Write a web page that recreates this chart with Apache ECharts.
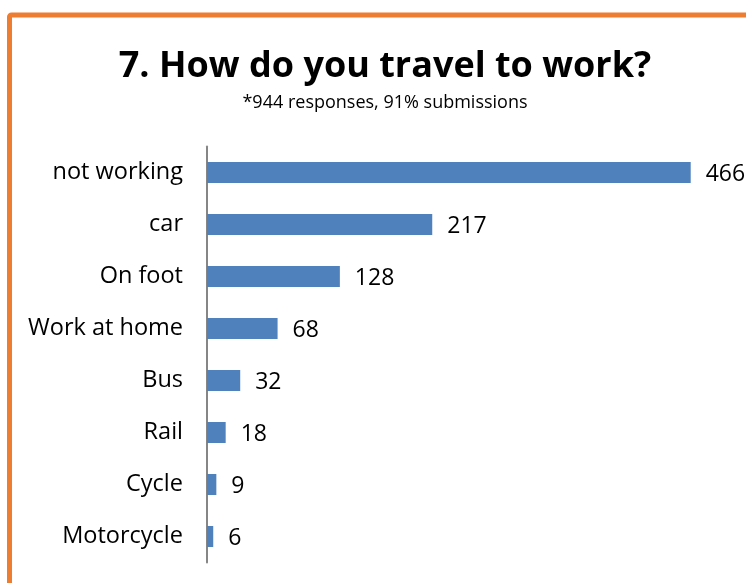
<!DOCTYPE html>
<html>
<head>
<meta charset="utf-8">
<style>
  html, body { margin: 0; padding: 0; background: #ffffff; }
  #chart { width: 746px; height: 583px; }
</style>
<script src="https://cdn.jsdelivr.net/npm/echarts@6/dist/echarts.min.js"></script>
</head>
<body>
<div id="chart"></div>
<script>
// Travel-to-work survey answers (top to bottom as listed)
const categories = ['not working', 'car', 'On foot', 'Work at home', 'Bus', 'Rail', 'Cycle', 'Motorcycle'];
const responses = [466, 217, 128, 68, 32, 18, 9, 6];

const titleText = '7. How do you travel to work?';
const subtitleText = '*944 responses, 91% submissions';

const chart = echarts.init(document.getElementById('chart'), null, { renderer: 'canvas' });
const fontFamily = '"Open Sans", sans-serif';

chart.setOption({
  animation: false,
  backgroundColor: '#ffffff',
  title: {
    text: titleText,
    subtext: subtitleText,
    left: 380,
    textAlign: 'center',
    top: 44,
    itemGap: 9,
    textStyle: { fontFamily, fontWeight: 'bold', fontSize: 36, color: '#000000' },
    subtextStyle: { fontFamily, fontSize: 18, color: '#000000' }
  },
  graphic: [{
    type: 'rect',
    shape: { x: 9.5, y: 15, width: 900, height: 700, r: 2 },
    style: { fill: 'none', stroke: '#ED7D31', lineWidth: 5 },
    silent: true
  }],
  grid: { left: 207, top: 146.5, width: 519, height: 416 },
  xAxis: {
    type: 'value',
    min: 0,
    max: 500,
    show: false
  },
  yAxis: {
    type: 'category',
    data: categories,
    inverse: true,
    axisLine: { show: true, lineStyle: { color: '#868686', width: 2 } },
    axisTick: { show: false },
    axisLabel: { fontFamily, fontSize: 23.5, color: '#000000', margin: 24, padding: [3, 0, 0, 0] },
  },
  series: [{
    type: 'bar',
    data: responses,
    barWidth: 21,
    itemStyle: { color: '#4F81BD' },
    label: {
      show: true,
      position: 'right',
      distance: 15,
      offset: [0, 2],
      fontFamily,
      fontSize: 23,
      color: '#000000'
    }
  }]
});
</script>
</body>
</html>
